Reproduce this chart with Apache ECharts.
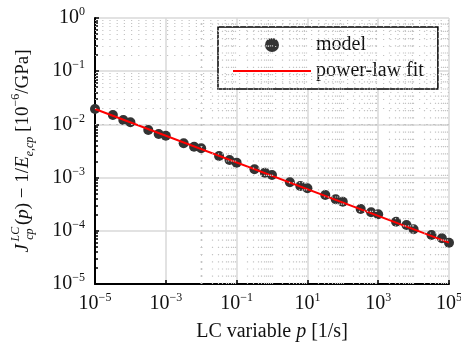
<!DOCTYPE html>
<html>
<head>
<meta charset="utf-8">
<script src="https://cdn.jsdelivr.net/npm/echarts@6/dist/echarts.min.js"></script>
<style>
  html, body { margin: 0; padding: 0; background: #fff; }
  #chart { width: 461px; height: 348px; }
</style>
</head>
<body>
<div id="chart"></div>
<script>
// LC variable p [1/s] and model values
const pModel = [
  1e-5, 3.2e-5, 6.3e-5, 1e-4, 3.2e-4, 6.3e-4, 1e-3, 3.2e-3, 6.3e-3, 1e-2,
  3.2e-2, 6.3e-2, 1e-1, 3.2e-1, 6.3e-1, 1, 3.2, 6.3, 10, 32, 63, 100,
  320, 630, 1e3, 3.2e3, 6.3e3, 1e4, 3.2e4, 6.3e4, 1e5
];
const jModel = [
  0.0195, 0.0150, 0.0121, 0.0110, 0.00785, 0.0066, 0.00614, 0.00441, 0.00381, 0.00356,
  0.00255, 0.00214, 0.00191, 0.00143, 0.00124, 0.00112, 0.000816, 0.000695, 0.000629,
  0.000471, 0.000391, 0.000352, 0.000257, 0.000223, 0.000204, 0.000148, 0.000129,
  0.000107, 8.34e-5, 7.22e-5, 5.97e-5
];
// power-law fit end points
const pFit = [1e-5, 1e5];
const jFit = [0.0195, 6.0e-5];

// minor grid positions
const minorMult = [2, 3, 4, 5, 6, 7, 8, 9];
const xDecades = [-5, -4, -3, -2, -1, 0, 1, 2, 3, 4];
const xOddDecades = [1e-4, 1e-2, 1, 1e2, 1e4];
const yDecades = [-5, -4, -3, -2, -1];

const xMinor = [];
xDecades.forEach(k => minorMult.forEach(m => xMinor.push(m * Math.pow(10, k))));
xOddDecades.forEach(v => xMinor.push(v));
const yMinor = [];
yDecades.forEach(k => minorMult.forEach(m => yMinor.push(m * Math.pow(10, k))));

const FONT = 'Liberation Serif';
const INK = '#111';
const dotted = { color: '#c4c4c4', width: 1.2, type: [1.2, 6] };

const powLabel = v => {
  const e = Math.round(Math.log10(v));
  return '{b|10}{s|' + (e < 0 ? '\u2212' + (-e) : e) + '}';
};
const powRich = {
  b: { fontFamily: FONT, fontSize: 20, color: INK, lineHeight: 24 },
  s: { fontFamily: FONT, fontSize: 12, color: INK, verticalAlign: 'top', lineHeight: 14 }
};

const chart = echarts.init(document.getElementById('chart'), null, { renderer: 'canvas' });

const rs = { fontFamily: FONT, fontSize: 19, color: INK, lineHeight: 26 };
const ri = Object.assign({}, rs, { fontStyle: 'italic' });
// J followed by stacked super/subscripts (zero-width, centred on one spot)
const riJ = Object.assign({}, ri, { padding: [0, 10, 0, 0] });
const rsGap = Object.assign({}, rs, { padding: [0, 0, 0, 9] });
const sup = { fontFamily: FONT, fontSize: 12, fontStyle: 'italic', color: INK, verticalAlign: 'top', lineHeight: 14 };
const sub = { fontFamily: FONT, fontSize: 12, fontStyle: 'italic', color: INK, verticalAlign: 'bottom', lineHeight: 14 };
const supW = Object.assign({}, sup, { width: 0 });
const subW = Object.assign({}, sub, { width: 0 });

chart.setOption({
  animation: false,
  backgroundColor: '#fff',
  grid: { left: 95, right: 12, top: 18, bottom: 64, outerBoundsMode: 'none', containLabel: false },
  legend: {
    data: [
      { name: 'model', icon: 'circle' },
      { name: 'power-law fit', icon: 'path://M0,0 L78,0 L78,2 L0,2 Z' }
    ],
    orient: 'vertical',
    left: 218,
    top: 27,
    padding: [8, 14, 8, 15],
    itemWidth: 78,
    itemHeight: 14,
    itemGap: 6,
    symbolKeepAspect: true,
    backgroundColor: '#fff',
    borderColor: '#000',
    borderWidth: 1.5,
    borderRadius: 0,
    textStyle: { fontFamily: FONT, fontSize: 20, lineHeight: 20, color: INK }
  },
  xAxis: {
    type: 'log',
    logBase: 10,
    min: 1e-5,
    max: 1e5,
    interval: 2,
    name: 'LC variable {i|p} [1/s]',
    nameLocation: 'middle',
    nameGap: 33,
    nameTextStyle: { rich: { i: Object.assign({}, ri, { fontSize: 20 }) }, fontFamily: FONT, fontSize: 20, lineHeight: 26, color: INK },
    axisLine: { show: true, lineStyle: { color: '#000', width: 2 } },
    axisTick: { show: true, inside: true, length: 4, lineStyle: { color: '#000', width: 1.5 } },
    axisLabel: { margin: 8, formatter: powLabel, rich: powRich },
    splitLine: { show: true, lineStyle: { color: '#d9d9d9', width: 1.5 } }
  },
  yAxis: {
    type: 'log',
    logBase: 10,
    min: 1e-5,
    max: 1,
    interval: 1,
    name: '{iJ|J}{supw|LC}{subw|cp}{rg|(}{i|p}{r|) \u2212 1/}{i|E}{sub|e,cp}{r| [10}{s2|\u22126}{r|/GPa]}',
    nameLocation: 'middle',
    nameRotate: 90,
    nameGap: 59,
    nameTextStyle: {
      rich: {
        r: rs, rg: rsGap, i: ri, iJ: riJ, sup: sup, supw: supW, sub: sub, subw: subW,
        s2: { fontFamily: FONT, fontSize: 12, color: INK, verticalAlign: 'top', lineHeight: 14 }
      }
    },
    axisLine: { show: true, lineStyle: { color: '#000', width: 2 } },
    axisTick: { show: true, inside: true, length: 4, lineStyle: { color: '#000', width: 1.5 } },
    minorTick: { show: true, splitNumber: 9, length: 3, lineStyle: { color: '#000', width: 1.5 } },
    axisLabel: { margin: 10, formatter: powLabel, rich: powRich },
    splitLine: { show: true, lineStyle: { color: '#d9d9d9', width: 1.5 } }
  },
  series: [
    {
      name: 'grid-minor',
      type: 'line',
      data: [],
      z: 1,
      silent: true,
      markLine: {
        silent: true,
        symbol: ['none', 'none'],
        label: { show: false },
        lineStyle: dotted,
        data: xMinor.map(v => ({ xAxis: v })).concat(yMinor.map(v => ({ yAxis: v })))
      }
    },
    {
      name: 'model',
      type: 'scatter',
      symbol: 'circle',
      symbolSize: 10,
      itemStyle: { color: '#333', opacity: 1 },
      data: pModel.map((p, i) => [p, jModel[i]]),
      z: 3
    },
    {
      name: 'power-law fit',
      type: 'line',
      symbol: 'none',
      lineStyle: { color: '#ff0000', width: 2 },
      itemStyle: { color: '#ff0000' },
      data: pFit.map((p, i) => [p, jFit[i]]),
      z: 4
    }
  ]
});
</script>
</body>
</html>
